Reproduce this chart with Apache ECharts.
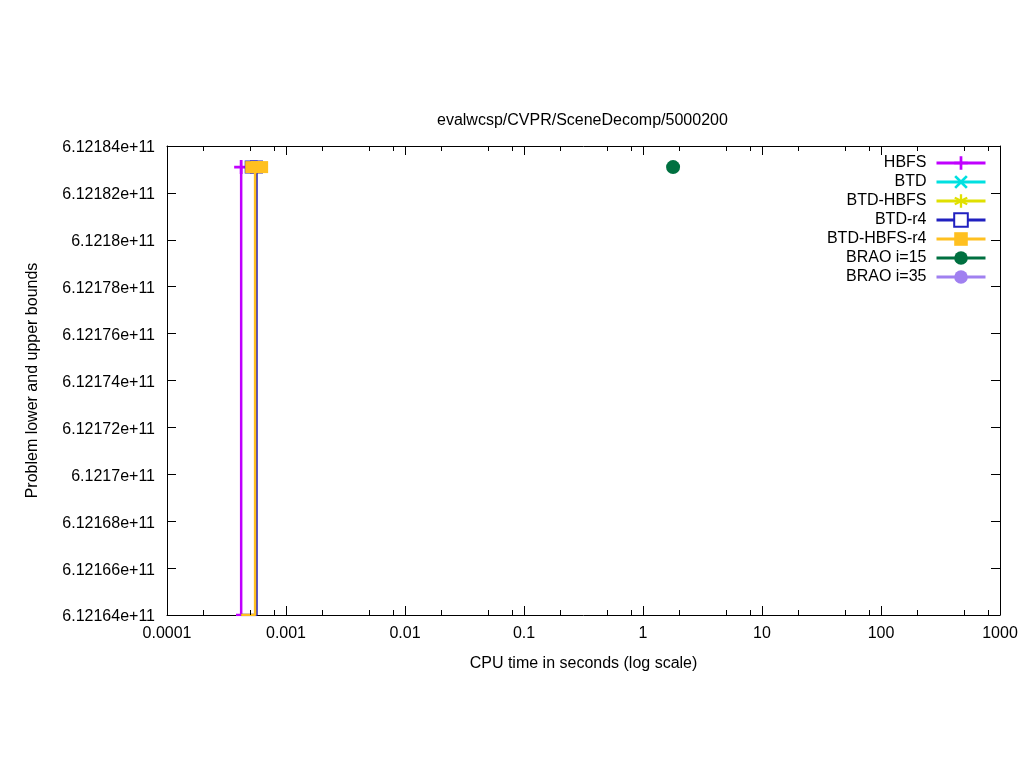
<!DOCTYPE html>
<html>
<head>
<meta charset="utf-8">
<script src="https://cdn.jsdelivr.net/npm/echarts@6/dist/echarts.min.js"></script>
<style>html,body{margin:0;padding:0;background:#fff}#c{width:1024px;height:768px}</style>
</head>
<body>
<div id="c"></div>
<script>
// ---- data ----
const seriesNames = ['HBFS', 'BTD', 'BTD-HBFS', 'BTD-r4', 'BTD-HBFS-r4', 'BRAO i=15', 'BRAO i=35'];
const hbfsUpper = [[0.00042, 612183100000]];
const hbfsLower = [[0.00038, 612164000000], [0.00042, 612164000000], [0.00042, 612183100000]];
const btdUpper = [];
const btdLower = [];
const btdHbfsUpper = [];
const btdHbfsLower = [];
const btdR4Upper = [[0.00051, 612183100000], [0.000565, 612183100000]];
const btdR4Lower = [[0.00042, 612164000000], [0.000565, 612164000000], [0.000565, 612183100000]];
const btdHbfsR4Upper = [[0.00051, 612183100000], [0.00057, 612183100000], [0.00063, 612183100000]];
const btdHbfsR4Lower = [[0.00042, 612164000000], [0.00055, 612164000000], [0.00055, 612183100000]];
const brao15Upper = [[1.79, 612183100000]];
const brao15Lower = [];
const brao35Upper = [];
const brao35Lower = [];
const xTickLabels = ['0.0001', '0.001', '0.01', '0.1', '1', '10', '100', '1000'];
const xMinorTicks = [0.0002, 0.0005, 0.0008, 0.002, 0.005, 0.008, 0.02, 0.05, 0.08,
  0.2, 0.5, 0.8, 2, 5, 8, 20, 50, 80, 200, 500, 800];
const yTickLabels = ['6.12164e+11', '6.12166e+11', '6.12168e+11', '6.1217e+11', '6.12172e+11',
  '6.12174e+11', '6.12176e+11', '6.12178e+11', '6.1218e+11', '6.12182e+11', '6.12184e+11'];
const yMin = 612164000000, yMax = 612184000000, yStep = 2000000;

// ---- styles ----
const FONT = 'Liberation Sans, Arial, sans-serif';
const colors = ['#c000ff', '#00e0e0', '#e0e000', '#2020c0', '#ffc020', '#007040', '#a080f0'];
const symbols = [
  'path://M4,0H6V4H10V6H6V10H4V6H0V4H4Z',
  'path://M1.4,0L5,3.6L8.6,0L10,1.4L6.4,5L10,8.6L8.6,10L5,6.4L1.4,10L0,8.6L3.6,5L0,1.4Z',
  'path://M4.2,0H5.8V3.6L8.9,1.8L9.7,3.2L6.6,5L9.7,6.8L8.9,8.2L5.8,6.4V10H4.2V6.4L1.1,8.2L0.3,6.8L3.4,5L0.3,3.2L1.1,1.8L4.2,3.6Z',
  'emptyRect', 'rect', 'circle', 'circle'
];
const symbolSizes = [14, 12, 14, 11, 12, 14, 12];
const uppers = [hbfsUpper, btdUpper, btdHbfsUpper, btdR4Upper, btdHbfsR4Upper, brao15Upper, brao35Upper];
const lowers = [hbfsLower, btdLower, btdHbfsLower, btdR4Lower, btdHbfsR4Lower, brao15Lower, brao35Lower];

const series = [];
seriesNames.forEach((name, i) => {
  series.push({
    name, type: 'line', data: uppers[i], color: colors[i],
    symbol: symbols[i], symbolSize: symbolSizes[i], showAllSymbol: true,
    lineStyle: { width: 2.5, color: colors[i] },
    itemStyle: { color: colors[i], borderWidth: symbols[i] === 'emptyRect' ? 2 : 0, borderColor: colors[i] },
    z: 2 + i, animation: false, clip: true
  });
  series.push({
    name, type: 'line', data: lowers[i], color: colors[i],
    symbol: 'none', lineStyle: { width: 2.5, color: colors[i] },
    z: 2 + i, animation: false, clip: true
  });
});

// minor log ticks drawn through the axis scale
series.push({
  type: 'custom', silent: true, animation: false, z: 20,
  data: xMinorTicks.map(v => [v, yMin]),
  encode: { x: 0, y: 1 },
  renderItem(params, api) {
    const x = Math.round(api.coord([api.value(0), yMin])[0]) + 0.5;
    const cs = params.coordSys;
    const b = cs.y + cs.height;
    return {
      type: 'group', children: [
        { type: 'line', shape: { x1: x, y1: b, x2: x, y2: b - 5 }, style: { stroke: '#000', lineWidth: 1 } },
        { type: 'line', shape: { x1: x, y1: cs.y, x2: x, y2: cs.y + 5 }, style: { stroke: '#000', lineWidth: 1 } }
      ]
    };
  }
});

const axisLineStyle = { show: true, lineStyle: { color: '#000', width: 1 } };
const chart = echarts.init(document.getElementById('c'), null, { renderer: 'canvas' });
chart.setOption({
  animation: false,
  backgroundColor: '#fff',
  textStyle: { fontFamily: FONT },
  title: {
    text: 'evalwcsp/CVPR/SceneDecomp/5000200',
    left: 432, top: 108,
    textStyle: { fontFamily: FONT, fontSize: 16, fontWeight: 'normal', color: '#000' }
  },
  grid: { left: 167, right: 24, top: 146, bottom: 153, containLabel: false },
  legend: {
    data: seriesNames, orient: 'vertical', right: 32, top: 150, align: 'right',
    itemWidth: 49, itemHeight: 17, itemGap: 3,
    lineStyle: { width: 3 },
    textStyle: { fontFamily: FONT, fontSize: 16, color: '#000', lineHeight: 14, padding: [0, 5, 0, 0] }
  },
  xAxis: [{
    type: 'log', logBase: 10, min: 0.0001, max: 1000, position: 'bottom',
    axisLine: axisLineStyle,
    axisTick: { show: true, inside: true, length: 9, lineStyle: { color: '#000' } },
    minorTick: { show: false },
    splitLine: { show: false },
    axisLabel: {
      color: '#000', fontFamily: FONT, fontSize: 16, margin: 11,
      formatter: v => xTickLabels[Math.round(Math.log10(v)) + 4]
    },
    name: 'CPU time in seconds (log scale)', nameLocation: 'middle', nameGap: 41,
    nameTextStyle: { color: '#000', fontFamily: FONT, fontSize: 16 }
  }, {
    type: 'log', logBase: 10, min: 0.0001, max: 1000, position: 'top',
    axisLine: axisLineStyle,
    axisTick: { show: true, inside: true, length: 9, lineStyle: { color: '#000' } },
    splitLine: { show: false }, axisLabel: { show: false }
  }],
  yAxis: [{
    type: 'value', min: yMin, max: yMax, interval: yStep, position: 'left',
    axisLine: axisLineStyle,
    axisTick: { show: true, inside: true, length: 9, lineStyle: { color: '#000' } },
    splitLine: { show: false },
    axisLabel: {
      color: '#000', fontFamily: FONT, fontSize: 16, margin: 12,
      verticalAlign: 'top', lineHeight: 4,
      formatter: v => yTickLabels[Math.round((v - yMin) / yStep)]
    },
    name: 'Problem lower and upper bounds', nameLocation: 'middle', nameGap: 126,
    nameTextStyle: { color: '#000', fontFamily: FONT, fontSize: 16 }
  }, {
    type: 'value', min: yMin, max: yMax, interval: yStep, position: 'right',
    axisLine: axisLineStyle,
    axisTick: { show: true, inside: true, length: 9, lineStyle: { color: '#000' } },
    splitLine: { show: false }, axisLabel: { show: false }
  }],
  series
});
</script>
</body>
</html>
